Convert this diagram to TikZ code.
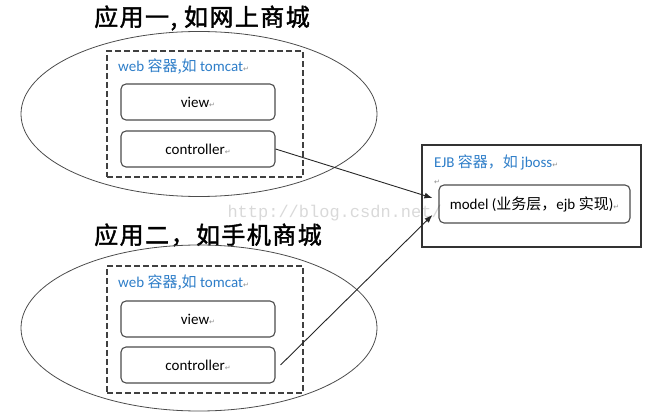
\documentclass[tikz,border=0pt]{standalone}
\usepackage{fontspec}
\setmainfont{Carlito}
\newfontfamily\cjk{Noto Sans CJK SC}
\newfontfamily\cjkt{Noto Sans CJK SC}[LetterSpace=6, FakeBold=1.6]
\newfontfamily\sym{DejaVu Sans}
\newfontfamily\wm{Liberation Mono}
\usetikzlibrary{shapes.geometric,arrows.meta}
\definecolor{wordblue}{RGB}{45,125,200}
\newcommand{\ret}{{\sym\fontsize{7}{7}\selectfont\color{black!45}↵}}

\begin{document}
\begin{tikzpicture}[x=1pt,y=-1pt]
	\tikzstyle{e} = [draw=black!70, line width=0.8pt, shape=ellipse, inner sep=0pt, minimum width=356pt, minimum height=165pt]
	\tikzstyle{d} = [draw=black!75, line width=1.3pt, dash pattern=on 6pt off 3pt, minimum width=196pt, minimum height=126pt]
	\tikzstyle{r} = [draw=black!70, line width=1.1pt, rounded corners=5pt, minimum width=154pt, minimum height=36pt, font=\fontsize{15}{17}\selectfont]
	\tikzstyle{t} = [font=\cjkt\fontsize{24}{26}\selectfont]
	\tikzstyle{b} = [anchor=west, inner sep=0pt, text=wordblue, font=\fontsize{15}{17}\selectfont]
	\tikzstyle{a} = [draw=black!85, line width=0.9pt, -{Latex[length=8pt,width=6pt]}]
	\useasboundingbox (0,0) rectangle (649,414);

	\node[t] (title-one) at (202,18) {应用一, 如网上商城};
	\node[e] (app-one) at (199,114) {};
	\node[d] (web-one) at (205,114) {};
	\node[b] (web-one-label) at (118,67) {web {\cjk 容器,如} tomcat\ret};
	\node[r] (view-one) at (198,102) {view\ret};
	\node[r] (ctrl-one) at (198,149) {controller\ret};

	\node[t] (title-two) at (208,235) {应用二，如手机商城};
	\node[e, minimum height=166pt] (app-two) at (199,328) {};
	\node[d, minimum height=127pt] (web-two) at (205,329.5) {};
	\node[b] (web-two-label) at (118,283) {web {\cjk 容器,如} tomcat\ret};
	\node[r] (view-two) at (198,319) {view\ret};
	\node[r] (ctrl-two) at (198,365) {controller\ret};

	\node[draw=black!80, line width=1.1pt, minimum width=219pt, minimum height=102pt] (ejb) at (531.5,196) {};
	\node[b] (ejb-label) at (434,162) {EJB {\cjk 容器，如} jboss\ret};
	\node[inner sep=0pt] (ejb-mark) at (437,182) {\ret};
	\node[r, minimum width=191pt, minimum height=38pt] (model) at (534.5,204) {model ({\cjk 业务层，}ejb {\cjk 实现})\ret};

	\draw[a] (ctrl-one.east) -- ([xshift=-6pt,yshift=6pt]model.west);
	\draw[a] ([xshift=5pt]ctrl-two.east) -- ([xshift=-6pt,yshift=-11pt]model.west);

	\node[anchor=west, text=black, text opacity=0.15, font=\wm\fontsize{17}{17}\selectfont] (watermark) at (224,213) {http://blog.csdn.net/};
\end{tikzpicture}
\end{document}
